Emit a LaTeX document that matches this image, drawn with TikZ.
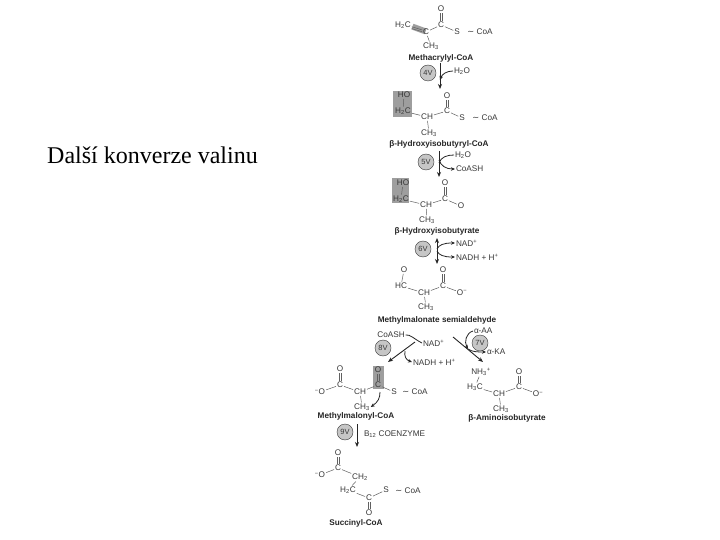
\documentclass[tikz,border=0pt]{standalone}
\usepackage{fontspec}
\setmainfont{Liberation Sans}
\newfontfamily\titlefont{Liberation Serif}
\newfontfamily\symf{DejaVu Sans}
\usetikzlibrary{arrows.meta}
\definecolor{ink}{gray}{0.22}
\definecolor{hl}{gray}{0.62}
\newcommand{\sbs}[1]{\textsubscript{#1}}
\newcommand{\sps}[1]{\textsuperscript{#1}}
\newcommand{\coa}{{\symf ∼} CoA}
\newcommand{\dbv}[2]{\draw[bond,transform canvas={xshift=-0.9pt}] (#1)--(#2); \draw[bond,transform canvas={xshift=0.9pt}] (#1)--(#2);}
\newcommand{\dbh}[2]{\draw[bond,transform canvas={yshift=-0.9pt}] (#1)--(#2); \draw[bond,transform canvas={yshift=0.9pt}] (#1)--(#2);}
\tikzset{
 atom/.style={font=\fontsize{8.2}{9}\selectfont,text=ink,inner sep=0.8pt},
 freetext/.style={font=\fontsize{8.2}{9}\selectfont,text=ink,inner sep=0.8pt,anchor=west},
 molname/.style={font=\fontsize{8.2}{9}\selectfont\bfseries,text=black!85,inner sep=0pt},
 bond/.style={draw=ink!80,line width=0.5pt},
 enz/.style={circle,fill=gray!45,draw=ink,line width=0.4pt,minimum size=16pt,inner sep=0pt,font=\fontsize{7.5}{8}\selectfont,text=ink},
 rxn/.style={draw=black!85,line width=0.9pt,-{Stealth[length=5pt,width=4pt]}},
 rxnb/.style={draw=black!85,line width=0.9pt,{Stealth[length=5pt,width=4pt]}-{Stealth[length=5pt,width=4pt]}},
 side/.style={draw=black!85,line width=0.8pt,-{Stealth[length=4pt,width=3.5pt]}},
 sideplain/.style={draw=black!85,line width=0.8pt}
}
\begin{document}
\begin{tikzpicture}[x=1pt,y=-1pt]
\useasboundingbox (0,0) rectangle (720,540);
\fill[white] (0,0) rectangle (720,540);
\node[font=\fontsize{24}{28}\titlefont,text=black,inner sep=0pt,anchor=west] (title) at (47,155) {Další konverze valinu};

% Methacrylyl-CoA
\fill[hl,rotate around={-20:(419,29)}] (412,26) rectangle (426,32);
\node[atom] (a1) at (403,25) {H\sbs{2}C};
\node[atom] (a2) at (426,32) {C};
\node[atom] (a3) at (441,25) {C};
\node[atom] (a4) at (441,9) {O};
\node[atom] (a5) at (457,32) {S};
\node[atom] (a6) at (480,32) {\coa};
\node[atom] (a7) at (431,46) {CH\sbs{3}};
\node[molname] (n1) at (441,58) {Methacrylyl-CoA};
\dbh{a1}{a2} \dbv{a3}{a4}
\draw[bond] (a2)--(a3); \draw[bond] (a3)--(a5); \draw[bond] (a2)--(a7);
% step 4V
\coordinate (s1) at (440,63); \coordinate (e1) at (440,89); \coordinate (m1) at (440,80);
\draw[rxn] (s1)--(e1);
\node[enz] (z4) at (428,73) {4V};
\node[freetext] (w1) at (453,71) {H\sbs{2}O};
\draw[side] (w1.west) .. controls (447,71) and (442,74) .. (m1);

% beta-hydroxyisobutyryl
\fill[hl] (393,91) rectangle (412,117);
\node[atom] (b1) at (404,95) {HO};
\node[atom] (b2) at (403,111) {H\sbs{2}C};
\node[atom] (b3) at (427,117) {CH};
\node[atom] (b4) at (447,111) {C};
\node[atom] (b5) at (447,96) {O};
\node[atom] (b6) at (462,118) {S};
\node[atom] (b7) at (485,118) {\coa};
\node[atom] (b8) at (429,133) {CH\sbs{3}};
\node[molname] (n2) at (439,144) {β-Hydroxyisobutyryl-CoA};
\draw[bond] (b1)--(b2); \draw[bond] (b2)--(b3); \draw[bond] (b3)--(b4); \dbv{b4}{b5}
\draw[bond] (b4)--(b6); \draw[bond] (b3)--(b8);
% step 5V
\coordinate (s2) at (439,151); \coordinate (e2) at (439,177); \coordinate (m2a) at (439,163); \coordinate (m2b) at (439,160);
\draw[rxn] (s2)--(e2);
\node[enz] (z5) at (426,162) {5V};
\node[freetext] (w2) at (454,155) {H\sbs{2}O};
\node[freetext] (w3) at (455,169) {CoASH};
\draw[sideplain] (w2.west) .. controls (447,155) and (441,157) .. (m2a);
\draw[side] (m2b) .. controls (441,166) and (446,169) .. (w3.west);

% beta-hydroxyisobutyrate
\fill[hl] (392,178) rectangle (409,203);
\node[atom] (c1) at (403,183) {HO};
\node[atom] (c2) at (401,199) {H\sbs{2}C};
\node[atom] (c3) at (426,205) {CH};
\node[atom] (c4) at (445,199) {C};
\node[atom] (c5) at (445,183) {O};
\node[atom] (c6) at (461,206) {O};
\node[atom] (c7) at (427,220) {CH\sbs{3}};
\node[molname] (n3) at (437,231) {β-Hydroxyisobutyrate};
\draw[bond] (c1)--(c2); \draw[bond] (c2)--(c3); \draw[bond] (c3)--(c4); \dbv{c4}{c5}
\draw[bond] (c4)--(c6); \draw[bond] (c3)--(c7);
% step 6V
\coordinate (s3) at (437,238); \coordinate (e3) at (437,264); \coordinate (m3a) at (437,249); \coordinate (m3b) at (437,251);
\draw[rxnb] (s3)--(e3);
\node[enz] (z6) at (423,249) {6V};
\node[freetext] (w4) at (455,243) {NAD\sps{+}};
\node[freetext] (w5) at (455,257) {NADH + H\sps{+}};
\draw[side] (m3a) .. controls (439,245) and (443,243) .. (w4.west);
\draw[side] (m3b) .. controls (439,255) and (443,257) .. (w5.west);

% Methylmalonate semialdehyde
\node[atom] (d1) at (404,270) {O};
\node[atom] (d2) at (401,286) {HC};
\node[atom] (d3) at (424,293) {CH};
\node[atom] (d4) at (443,286) {C};
\node[atom] (d5) at (443,270) {O};
\node[atom] (d6) at (462,293) {O\sps{−}};
\node[atom] (d7) at (426,307) {CH\sbs{3}};
\node[molname] (n4) at (437,320) {Methylmalonate semialdehyde};
\draw[bond] (d1)--(d2); \draw[bond] (d2)--(d3); \draw[bond] (d3)--(d4); \dbv{d4}{d5}
\draw[bond] (d4)--(d6); \draw[bond] (d3)--(d7);

% step 8V
\coordinate (s4) at (415,342); \coordinate (e4) at (388,362); \coordinate (m4) at (405,351);
\draw[rxn] (s4)--(e4);
\node[atom] (w6) at (391,335) {CoASH};
\node[enz] (z8) at (383,348) {8V};
\node[freetext] (w7) at (422,343) {NAD\sps{+}};
\node[freetext] (w8) at (412,362) {NADH + H\sps{+}};
\draw[sideplain] (w6.east) .. controls (410,334) and (414,339) .. (w7.west);
\draw[side] (m4) .. controls (404,356) and (406,360) .. (w8.west);

% step 7V
\coordinate (s5) at (453,337); \coordinate (e5) at (483,362); \coordinate (m5) at (468,349);
\draw[rxn] (s5)--(e5);
\node[freetext] (w9) at (473,331) {α-AA};
\node[enz] (z7) at (480,343) {7V};
\node[freetext] (w10) at (486,352) {α-KA};
\draw[side] (w9.west) .. controls (466,333) and (464,342) .. (m5);
\draw[side] (m5) .. controls (472,352) and (478,352) .. (w10.west);

% Methylmalonyl-CoA
\fill[hl] (373,366) rectangle (384,389);
\node[atom] (f1) at (340,369) {O};
\node[atom] (f2) at (340,385) {C};
\node[atom] (f3) at (320,392) {\sps{−}O};
\node[atom] (f4) at (360,392) {CH};
\node[atom] (f5) at (378,385) {C};
\node[atom] (f6) at (378,370) {O};
\node[atom] (f7) at (394,392) {S};
\node[atom] (f8) at (415,392) {\coa};
\node[atom] (f9) at (362,407) {CH\sbs{3}};
\node[molname] (n5) at (356,416) {Methylmalonyl-CoA};
\dbv{f1}{f2} \draw[bond] (f2)--(f3); \draw[bond] (f2)--(f4); \draw[bond] (f4)--(f5);
\dbv{f5}{f6} \draw[bond] (f5)--(f7); \draw[bond] (f4)--(f9);
\coordinate (t1) at (380,392);
\draw[side] (t1) .. controls (380,398) and (378,402) .. (f9.east);

% beta-aminoisobutyrate
\node[atom] (g1) at (481,372) {NH\sbs{3}\sps{+}};
\node[atom] (g2) at (475,387) {H\sbs{3}C};
\node[atom] (g3) at (499,394) {CH};
\node[atom] (g4) at (519,387) {C};
\node[atom] (g5) at (519,372) {O};
\node[atom] (g6) at (538,394) {O\sps{−}};
\node[atom] (g7) at (501,409) {CH\sbs{3}};
\node[molname] (n6) at (507,418) {β-Aminoisobutyrate};
\draw[bond] (g1)--(g2); \draw[bond] (g2)--(g3); \draw[bond] (g3)--(g4); \dbv{g4}{g5}
\draw[bond] (g4)--(g6); \draw[bond] (g3)--(g7);

% step 9V
\coordinate (s6) at (357,424); \coordinate (e6) at (357,447);
\draw[rxn] (s6)--(e6);
\node[enz] (z9) at (345,432) {9V};
\node[freetext] (w11) at (363,434) {B\sbs{12} COENZYME};

% Succinyl-CoA
\node[atom] (h1) at (338,453) {O};
\node[atom] (h2) at (338,468) {C};
\node[atom] (h3) at (320,475) {\sps{−}O};
\node[atom] (h4) at (360,477) {CH\sbs{2}};
\node[atom] (h5) at (348,490) {H\sbs{2}C};
\node[atom] (h6) at (369,498) {C};
\node[atom] (h7) at (369,513) {O};
\node[atom] (h8) at (386,490) {S};
\node[atom] (h9) at (408,491) {\coa};
\node[molname] (n7) at (356,523) {Succinyl-CoA};
\dbv{h1}{h2} \draw[bond] (h2)--(h3); \draw[bond] (h2)--(h4); \draw[bond] (h4)--(h5);
\draw[bond] (h5)--(h6); \dbv{h6}{h7} \draw[bond] (h6)--(h8);
\end{tikzpicture}
\end{document}
